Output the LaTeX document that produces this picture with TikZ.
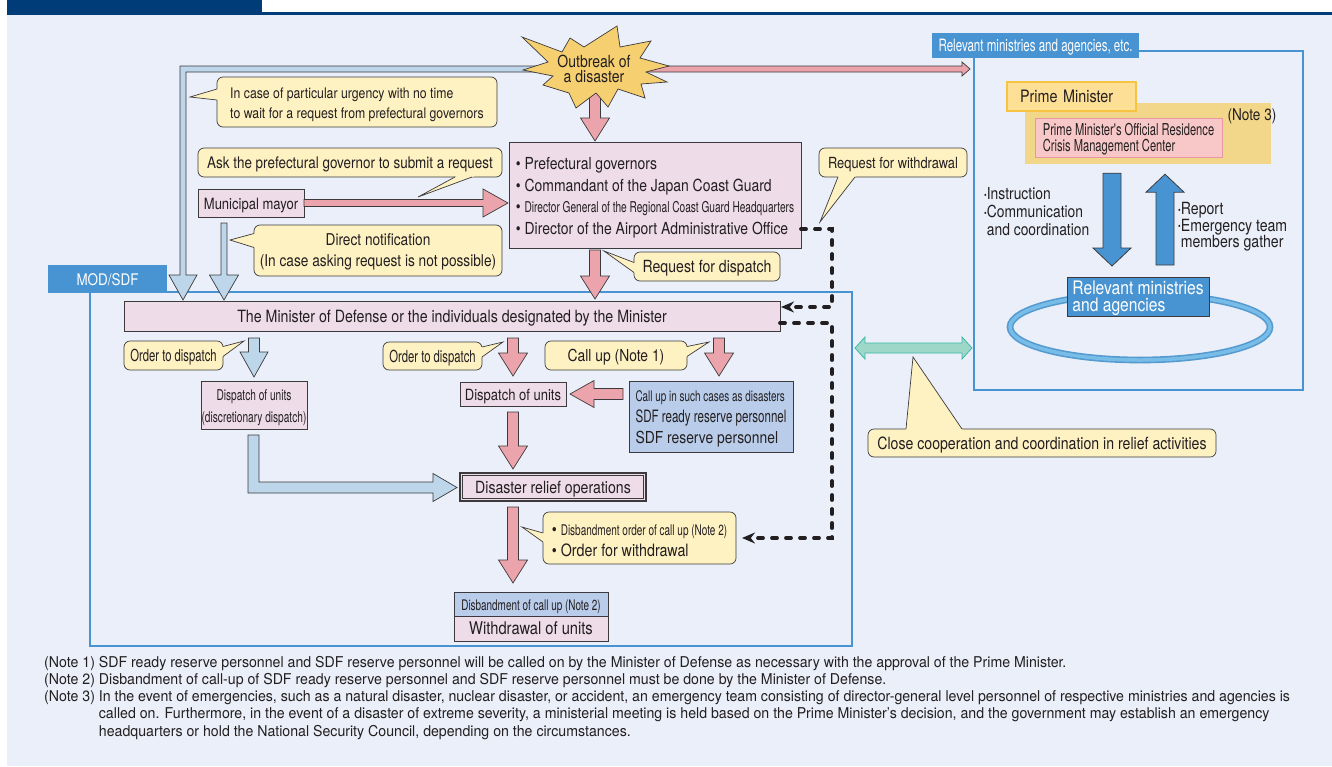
\documentclass[tikz,border=0pt]{standalone}
\usepackage{fontspec}
\setmainfont{TeX Gyre Heros}
\newfontfamily\cndfam{TeX Gyre Heros}[FakeStretch=0.84]
\newfontfamily\xcndfam{TeX Gyre Heros}[FakeStretch=0.68]
\newfontfamily\notefam{TeX Gyre Heros}[FakeStretch=0.95]
\newcommand\fcn[2]{\cndfam\fontsize{#1pt}{#2pt}\selectfont}
\newcommand\fxc[2]{\xcndfam\fontsize{#1pt}{#2pt}\selectfont}
\newcommand\topgap[1]{\rule{0pt}{#1pt}}
\newcommand\dotmark{\raisebox{1.6pt}{\fontsize{9pt}{9pt}\selectfont\textbullet}}
\usetikzlibrary{calc,positioning,arrows.meta,shapes.geometric}

\definecolor{bgc}{RGB}{234,239,249}
\definecolor{navy}{RGB}{0,61,120}
\definecolor{edge}{RGB}{60,58,60}
\definecolor{txtc}{RGB}{35,31,32}
\definecolor{boxpink}{RGB}{238,220,232}
\definecolor{boxblue}{RGB}{185,204,234}
\definecolor{callfill}{RGB}{254,241,194}
\definecolor{arrpink}{RGB}{236,164,172}
\definecolor{arrblue}{RGB}{189,214,234}
\definecolor{tagblue}{RGB}{72,148,210}
\definecolor{stargold}{RGB}{245,207,112}
\definecolor{pmfill}{RGB}{254,223,150}
\definecolor{pmedge}{RGB}{247,195,66}
\definecolor{goldbg}{RGB}{242,214,138}
\definecolor{crisfill}{RGB}{248,200,200}
\definecolor{crisedge}{RGB}{232,150,160}
\definecolor{tealfill}{RGB}{158,214,200}
\definecolor{tealedge}{RGB}{60,186,166}
\definecolor{ringdark}{RGB}{85,155,208}
\definecolor{ringlight}{RGB}{120,188,232}

\pgfdeclarelayer{back}
\pgfsetlayers{back,main}

% fat block arrows: shaft half width, head half width, head length
\newcommand\setfat[3]{\def\faW{#1pt}\def\faH{#2pt}\def\faL{#3pt}}
\newcommand\fatarrow[3]{%
  \coordinate (faA) at (#2);
  \coordinate (faB) at (#3);
  \coordinate (faC) at ($(faB)!\faL!(faA)$);
  \draw[#1] ($(faA)!\faW!90:(faB)$) -- ($(faC)!\faW!90:(faB)$) -- ($(faC)!\faH!90:(faB)$)
    -- (faB) -- ($(faC)!\faH!-90:(faB)$) -- ($(faC)!\faW!-90:(faB)$) -- ($(faA)!\faW!-90:(faB)$) -- cycle;}
% pointer of a speech bubble
\newcommand\callptr[4]{%
  \coordinate (cpA) at (#2);
  \coordinate (cpB) at (#3);
  \fill[callfill] ($(cpA)!-3pt!(#4)$) -- (cpA) -- (#4) -- (cpB) -- ($(cpB)!-3pt!(#4)$) -- cycle;
  \draw[ptrline] (cpA) -- (#4) -- (cpB);}

\begin{document}
\begin{tikzpicture}[x=1pt, y=-1pt,
  box/.style={draw=edge, line width=0.7pt, inner sep=0pt, outer sep=0pt, text=txtc},
  oneline/.style={text height=12pt, text depth=0pt},
  pinkbox/.style={box, fill=boxpink},
  bluebox/.style={box, fill=boxblue},
  bubble/.style={box, fill=callfill, rounded corners=6pt},
  tag/.style={fill=tagblue, text=white, inner sep=0pt, outer sep=0pt},
  panel/.style={draw=tagblue, line width=1.4pt, inner sep=0pt, outer sep=0pt},
  plain/.style={inner sep=0pt, text=txtc},
  pinkarr/.style={fill=arrpink, draw=edge, line width=0.7pt},
  bluearr/.style={fill=arrblue, draw=edge, line width=0.7pt},
  deeparr/.style={fill=tagblue, draw=edge, line width=0.8pt},
  tealarr/.style={fill=tealfill, draw=tealedge, line width=0.8pt},
  dashline/.style={draw=txtc, line width=3.8pt, dash pattern=on 5pt off 9pt, line cap=round, -{Stealth[length=13pt,width=11pt]}},
  ptrline/.style={draw=edge, line width=0.7pt}]
\useasboundingbox (0,0) rectangle (1332,766);

\begin{pgfonlayer}{back}
  \fill[white] (0,0) rectangle (1332,766);
  \fill[bgc] (7,15) rectangle (1332,766);
  \fill[navy] (7,0) rectangle (262,15);
  \fill[navy] (262,12) rectangle (1332,15);
  \node[panel, minimum width=762, minimum height=354] (modf) at (471,469) {};
  \node[panel, minimum width=329, minimum height=339] (relf) at (1138.5,220.5) {};
\end{pgfonlayer}

\node[tag, oneline, minimum width=119, minimum height=28, font=\fcn{16}{16}] (modtag) at (107.5,279) {MOD/SDF};
\node[tag, oneline, minimum width=207, minimum height=25, font=\fxc{17}{17}] (reltag) at (1035.5,45.5) {Relevant ministries and agencies, etc.};

% outbreak
\draw[fill=stargold, draw=edge, line width=0.7pt, line join=miter]
  (522,37) -- (562,52) -- (570,38) -- (584,47) -- (617,26) -- (620,47) -- (651,41) -- (640,58)
  -- (669,66) -- (646,72) -- (667,82) -- (641,84) -- (645,98) -- (618,89) -- (608,107) -- (596,93)
  -- (576,108) -- (569,93) -- (543,85) -- (553,76) -- (523,70) -- (548,62) -- cycle;
\node[plain, align=center, font=\fcn{16.7}{15}] (star) at (594,69) {Outbreak of\\a disaster};

% requests
\node[bubble, minimum width=280, minimum height=50, align=left, font=\fcn{14.6}{20}] (urg) at (357,102)
  {\topgap{15.5}In case of particular urgency with no time\\to wait for a request from prefectural governors};
\node[bubble, oneline, minimum width=304, minimum height=29, font=\fcn{16}{16}] (ask) at (350,162.5) {Ask the prefectural governor to submit a request};
\node[pinkbox, oneline, minimum width=106, minimum height=28, font=\fcn{15.5}{16}] (mayor) at (251,203) {Municipal mayor};
\node[bubble, minimum width=248, minimum height=51, align=center, font=\fcn{16.3}{21}] (dir) at (378,250.5)
  {\topgap{15}Direct notification\\(In case asking request is not possible)};
\node[pinkbox, minimum width=292, minimum height=106, align=left, font=\fcn{16.6}{21.5}] (pref) at (655,195)
  {\topgap{18}\textbullet\ Prefectural governors\\\textbullet\ Commandant of the Japan Coast Guard\\\textbullet\ {\fxc{14.9}{21.5}Director General of the Regional Coast Guard Headquarters}\\\textbullet\ Director of the Airport Administrative Office};
\node[bubble, oneline, minimum width=146, minimum height=29, font=\fcn{16.75}{17}] (req) at (707,266.5) {Request for dispatch};
\node[bubble, oneline, minimum width=148, minimum height=29, font=\fcn{15.3}{16}] (wd) at (893,162.5) {Request for withdrawal};

% MOD/SDF
\node[pinkbox, oneline, minimum width=656, minimum height=30, font=\fcn{16.9}{17}] (mod) at (452,316) {The Minister of Defense or the individuals designated by the Minister};
\node[bubble, oneline, minimum width=99, minimum height=29, font=\fxc{16.6}{17}] (ord1) at (173.5,355.5) {Order to dispatch};
\node[bubble, oneline, minimum width=99, minimum height=28, font=\fxc{16.6}{17}] (ord2) at (432.5,356) {Order to dispatch};
\node[bubble, oneline, minimum width=142, minimum height=29, font=\fcn{16.5}{17}] (call) at (616,355.5) {Call up (Note 1)};
\node[pinkbox, minimum width=106, minimum height=48, align=center, font=\fxc{14.9}{22}] (disc) at (254,405) {\topgap{16.5}Dispatch of units\\(discretionary dispatch)};
\node[pinkbox, oneline, minimum width=106, minimum height=24, font=\fcn{15.5}{16}] (disp) at (513,394) {Dispatch of units};
\node[bluebox, minimum width=164, minimum height=71, align=left, font=\fcn{16.5}{21}] (cub) at (711,416.5)
  {{\fxc{14.6}{21}\topgap{15.5}Call up in such cases as disasters}\\{\fxc{17}{21}SDF ready reserve personnel}\\SDF reserve personnel};
\node[pinkbox, oneline, line width=1.2pt, minimum width=186, minimum height=28, font=\fcn{16.8}{17}] (relief) at (553,487) {Disaster relief operations};
\draw[edge, line width=0.7pt] ($(relief.north west)+(2.6,2.6)$) rectangle ($(relief.south east)+(-2.6,-2.6)$);
\node[bubble, minimum width=193, minimum height=52, align=left, font=\fcn{17}{21}] (disb) at (639.5,538)
  {\topgap{16}\textbullet\ {\fxc{14.7}{21}Disbandment order of call up (Note 2)}\\\textbullet\ Order for withdrawal};
\node[bluebox, oneline, minimum width=154, minimum height=24, font=\fxc{14.6}{15}] (disbu) at (531,604) {Disbandment of call up (Note 2)};
\node[pinkbox, oneline, minimum width=154, minimum height=25, font=\fcn{17.5}{18}, below=0pt of disbu] (wdu) {Withdrawal of units};

% relevant ministries
\node[fill=goldbg, minimum width=246, minimum height=61, inner sep=0pt] (gold) at (1148,133.5) {};
\node[fill=pmfill, draw=pmedge, line width=1.3pt, oneline, minimum width=129, minimum height=29, text width=103, inner xsep=13pt, inner ysep=0pt,
  align=left, text=txtc, font=\fcn{17.1}{17}] (pm) at (1071.5,96.5) {Prime Minister};
\node[fill=crisfill, draw=crisedge, line width=1pt, minimum width=187, minimum height=39, inner sep=0pt,
  align=left, text=txtc, font=\fxc{16.4}{16}] (cmc) at (1128.5,137.5) {\topgap{15.8}Prime Minister's Official Residence\\Crisis Management Center};
\node[plain, font=\fcn{16.2}{16}] (note3) at (1252,116) {(Note 3)};
\node[plain, anchor=west, align=left, font=\fcn{16.5}{18}] (instr) at (984,212) {\dotmark Instruction\\\dotmark Communication\\\hphantom{\dotmark}and coordination};
\node[plain, anchor=west, align=left, font=\fcn{16.8}{16.5}] (rep) at (1178,227) {\dotmark Report\\\dotmark Emergency team\\\hphantom{\dotmark}members gather};
\node[ellipse, draw=ringdark, double=ringlight, double distance=3.5pt, line width=1.6pt, minimum width=260, minimum height=66] (ring) at (1140,327) {};
\node[tag, draw=edge, line width=0.8pt, minimum width=142, minimum height=39, align=left, font=\fcn{18.6}{17}] (rml) at (1138,296.5)
  {\topgap{17.5}Relevant ministries\\and agencies};
\node[bubble, oneline, minimum width=348, minimum height=28, font=\fcn{16.8}{17}] (coop) at (1042,443) {Close cooperation and coordination in relief activities};

% notes
\node[plain, anchor=north west, font=\notefam\fontsize{14.9pt}{17.2pt}\selectfont] (notes) at (44,655) {\begin{tabular}{@{}l@{\ }l@{}}
(Note 1) & SDF ready reserve personnel and SDF reserve personnel will be called on by the Minister of Defense as necessary with the approval of the Prime Minister.\\
(Note 2) & Disbandment of call-up of SDF ready reserve personnel and SDF reserve personnel must be done by the Minister of Defense.\\
(Note 3) & In the event of emergencies, such as a natural disaster, nuclear disaster, or accident, an emergency team consisting of director-general level personnel of respective ministries and agencies is\\
 & called on. Furthermore, in the event of a disaster of extreme severity, a ministerial meeting is held based on the Prime Minister’s decision, and the government may establish an emergency\\
 & headquarters or hold the National Security Council, depending on the circumstances.
\end{tabular}};

% arrows starting under the star
\begin{pgfonlayer}{back}
  \draw[bluearr] let \p1=($(star.center)+(-40,0)$), \p2=($(mod.north west)+(59,-1)$) in
    (\x1,\y1+3pt) -- (\x2-3pt,\y1+3pt) -- (\x2-3pt,\y2+25pt) -- (\x2-14pt,\y2+25pt) -- (\x2,\y2)
    -- (\x2+14pt,\y2+25pt) -- (\x2+3pt,\y2+25pt) -- (\x2+3pt,\y1-3pt) -- (\x1,\y1-3pt) -- cycle;
  \setfat{3}{7}{8}
  \fatarrow{pinkarr}{$(star.center)+(40,0)$}{$(relf.west |- star.center)+(-4,0)$}
  \setfat{5.5}{14.5}{23}
  \fatarrow{pinkarr}{$(star.center)+(1,20)$}{$(pref.north west)+(86,-1)$}
\end{pgfonlayer}

\setfat{5.5}{14.5}{23}
\fatarrow{pinkarr}{$(pref.south west)+(86,2)$}{$(mod.north west)+(471,-2)$}
\fatarrow{pinkarr}{$(mod.south west)+(389,7)$}{$(disp.north)+(0,-6)$}
\fatarrow{pinkarr}{$(mod.south west)+(595,7)$}{$(cub.north west)+(90,-5)$}
\fatarrow{pinkarr}{$(disp.south)+(0,6)$}{$(relief.north west)+(53,-4)$}
\fatarrow{pinkarr}{$(relief.south west)+(53,6)$}{$(disbu.north)+(-18,-9)$}
\setfat{5.5}{13.5}{24}
\fatarrow{pinkarr}{$(cub.west |- disp.east)+(-6,0)$}{$(disp.east)+(4,0)$}
\setfat{3.5}{14}{25}
\fatarrow{pinkarr}{mayor.east}{$(pref.west |- mayor.east)+(-1,0)$}

\setfat{3}{14.5}{25}
\fatarrow{bluearr}{$(mayor.south west)+(26,6)$}{$(mod.north west)+(100,-1)$}
\setfat{5.5}{14}{25}
\fatarrow{bluearr}{$(mod.south west)+(130,7)$}{$(disc.north)+(0,-4)$}
\draw[bluearr] let \p1=($(disc.south)+(-0.5,6)$), \p2=($(relief.west)+(-3,0.5)$) in
  (\x1-5.5pt,\y1) -- (\x1-5.5pt,\y2-5.5pt) -- (\x2-24pt,\y2-5.5pt) -- (\x2-24pt,\y2-14pt) -- (\x2,\y2)
  -- (\x2-24pt,\y2+14pt) -- (\x2-24pt,\y2+5.5pt) -- (\x1+5.5pt,\y2+5.5pt) -- (\x1+5.5pt,\y1) -- cycle;

\setfat{9}{19}{18}
\fatarrow{deeparr}{$(gold.south)+(-36,9)$}{$(rml.north)+(-26,-11)$}
\fatarrow{deeparr}{$(rml.north)+(27,-12)$}{$(gold.south)+(17,10)$}

\draw[tealarr] let \p1=($(modf.north east)+(3,56)$), \p2=($(relf.south west)+(-2,-42)$) in
  (\x1,\y1) -- (\x1+10pt,\y1+11pt) -- (\x1+10pt,\y1+5pt) -- (\x2-10pt,\y1+5pt) -- (\x2-10pt,\y1+11pt) -- (\x2,\y1)
  -- (\x2-10pt,\y1-11pt) -- (\x2-10pt,\y1-5pt) -- (\x1+10pt,\y1-5pt) -- (\x1+10pt,\y1-11pt) -- cycle;

% withdrawal requests
\draw[dashline] ($(pref.east)+(0,34)$) -- ++(31,0) |- ($(mod.east)+(1,-9)$);
\draw[dashline] ($(mod.east)+(0,7)$) -- ++(52,0) |- ($(disb.east)+(6,0)$);

% bubble pointers
\coordinate (urgtip) at (190,97);
\coordinate (asktip) at (418,197);
\coordinate (dirtip) at (230,240);
\coordinate (reqtip) at (604,251);
\coordinate (wdtip) at (820,222);
\coordinate (ordatip) at (244,341);
\coordinate (ordbtip) at (503,342);
\coordinate (calltip) at (709,342);
\coordinate (disbtip) at (522,527);
\coordinate (cooptip) at (913,357);
\callptr{urg}{$(urg.west)+(0,-13)$}{$(urg.west)+(0,-2)$}{urgtip}
\callptr{ask}{$(ask.south)+(105,0)$}{$(ask.south)+(122,0)$}{asktip}
\callptr{dir}{$(dir.west)+(0,-17)$}{$(dir.west)+(0,-3)$}{dirtip}
\callptr{req}{$(req.west)+(0,-4)$}{$(req.west)+(0,6)$}{reqtip}
\callptr{wd}{$(wd.south)+(-55,0)$}{$(wd.south)+(-38,0)$}{wdtip}
\callptr{ord1}{$(ord1.east)+(0,-9)$}{$(ord1.east)+(0,1)$}{ordatip}
\callptr{ord2}{$(ord2.east)+(0,-9)$}{$(ord2.east)+(0,1)$}{ordbtip}
\callptr{call}{$(call.east)+(0,-9)$}{$(call.east)+(0,1)$}{calltip}
\callptr{disb}{$(disb.west)+(0,-5)$}{$(disb.west)+(0,4)$}{disbtip}
\callptr{coop}{$(coop.north)+(-136,0)$}{$(coop.north)+(-80,0)$}{cooptip}
\end{tikzpicture}
\end{document}
